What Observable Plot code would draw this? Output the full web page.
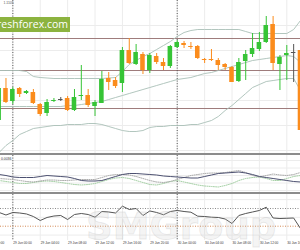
<!DOCTYPE html>
<html><head><meta charset="utf-8">
<script src="https://cdn.jsdelivr.net/npm/d3@7"></script>
<script src="https://cdn.jsdelivr.net/npm/@observablehq/plot@0.6"></script>
<style>
body{margin:0;background:#fff}
#chart{position:relative;width:300px;height:250px;overflow:hidden;background:#fff;font-family:"Liberation Sans",Arial,sans-serif}
#chart svg{position:absolute;left:0}
.sep{position:absolute;left:0;width:300px;background:#8c8c8c}
#banner{position:absolute;left:0;top:17px;width:70px;height:15px;background:#8cb33f;overflow:hidden}
#banner span{position:absolute;right:2px;top:0;line-height:15px;white-space:nowrap;color:#fff;font:10.5px "Open Sans",sans-serif}
#wm{position:absolute;left:86px;top:208px;font:bold 37px "DejaVu Sans",sans-serif;line-height:37px;color:rgba(200,200,200,0.2);-webkit-text-stroke:0.8px rgba(175,175,175,0.25);white-space:nowrap}
</style></head><body><div id="chart"></div><script>
// ---- data (hourly EUR/USD, first candle 28 Jun 22:00) ----
const startHour = "2016-06-28T22:00:00Z";
const opens = [
 1.1080,1.1112,1.1099,1.1112,1.1107, 1.1108,1.1096,1.1087,1.1099,1.1101,
 1.1102,1.1090,1.1104,1.1105,1.1094, 1.1097,1.1122,1.1120,1.1117,1.1150,
 1.1136,1.1146,1.1130,1.1144,1.1138, 1.1134,1.1153,1.1157,1.1154,1.1154,
 1.1141,1.1141,1.1140,1.1136,1.1133, 1.1119,1.1139,1.1146,1.1151,1.1158,
 1.1176,1.1136,1.1145,1.1148,1.1150];
const highs = [
 1.1114,1.1122,1.1113,1.1113,1.1110, 1.1111,1.1097,1.1101,1.1102,1.1103,
 1.1104,1.1111,1.1135,1.1111,1.1100, 1.1129,1.1128,1.1123,1.1153,1.1162,
 1.1156,1.1148,1.1147,1.1147,1.1142, 1.1155,1.1160,1.1159,1.1158,1.1155,
 1.1142,1.1151,1.1142,1.1137,1.1134, 1.1142,1.1150,1.1167,1.1168,1.1184,
 1.1184,1.1145,1.1155,1.1156,1.1153];
const lows = [
 1.1077,1.1097,1.1096,1.1103,1.1106, 1.1096,1.1084,1.1084,1.1098,1.1099,
 1.1089,1.1089,1.1100,1.1093,1.1084, 1.1097,1.1110,1.1112,1.1108,1.1136,
 1.1135,1.1126,1.1127,1.1136,1.1130, 1.1132,1.1152,1.1152,1.1151,1.1141,
 1.1137,1.1139,1.1130,1.1130,1.1118, 1.1118,1.1120,1.1143,1.1149,1.1157,
 1.1130,1.1110,1.1120,1.1118,1.1065];
const closes = [
 1.1112,1.1098,1.1111,1.1106,1.1109, 1.1097,1.1086,1.1098,1.1100,1.1101,
 1.1090,1.1103,1.1105,1.1095,1.1098, 1.1121,1.1118,1.1114,1.1150,1.1137,
 1.1148,1.1130,1.1145,1.1138,1.1134, 1.1154,1.1158,1.1155,1.1153,1.1142,
 1.1140,1.1140,1.1135,1.1133,1.1118, 1.1138,1.1146,1.1152,1.1158,1.1175,
 1.1137,1.1143,1.1147,1.1148,1.1070];
const upperBand = [
 1.1130,1.1130,1.1130,1.1130,1.1129, 1.1124,1.1123,1.11225,1.1122,1.1122,
 1.1122,1.1122,1.1122,1.1122,1.1122, 1.1122,1.11225,1.1123,1.1129,1.1136,
 1.1140,1.1144,1.1147,1.1151,1.1155, 1.1159,1.1164,1.1168,1.1170,1.1171,
 1.1171,1.1171,1.1171,1.1171,1.1171, 1.1171,1.1169,1.1167,1.1167,1.1167,
 1.1167,1.1167,1.1167,1.1171,1.1180];
const midBand = [
 1.1094,1.1094,1.1094,1.1094,1.1094, 1.1094,1.1094,1.1094,1.1094,1.1094,
 1.1095,1.1095,1.1096,1.1097,1.1098, 1.1099,1.1101,1.1103,1.1105,1.1107,
 1.1109,1.1111,1.1113,1.1115,1.1117, 1.1119,1.1121,1.1122,1.1123,1.1125,
 1.1127,1.1128,1.1130,1.1132,1.1134, 1.1136,1.1138,1.1140,1.1141,1.1142,
 1.1143,1.1144,1.1145,1.1144,1.1138];
const lowerBand = [
 1.1048,1.1055,1.1060,1.1066,1.1069, 1.1072,1.1073,1.1074,1.1075,1.1075,
 1.1076,1.1076,1.1076,1.1077,1.1077, 1.1076,1.1074,1.1072,1.1070,1.1069,
 1.1069,1.1070,1.1073,1.1074,1.1074, 1.1075,1.1075,1.1075,1.1076,1.1076,
 1.1078,1.1080,1.1084,1.1090,1.1095, 1.1101,1.1107,1.1113,1.1116,1.1119,
 1.1120,1.1121,1.1122,1.1122,1.1110];
const levels = [1.1162, 1.1130, 1.1092];
const osc = [
 0.0002,0.0000,-0.0003,-0.0004,-0.0004, -0.0004,-0.0002,0.0000,-0.0001,-0.0002,
 -0.0003,-0.0006,-0.0010,-0.0011,-0.0011, -0.0010,-0.0006,-0.0002,0.0002,0.0004,
 0.0004,0.0003,0.0002,0.0001,-0.0001, -0.0002,-0.0003,-0.0004,-0.0005,-0.0005,
 -0.0002,0.0001,0.0004,0.0005,0.0006, 0.0007,0.0005,0.0002,-0.0002,-0.0004,
 -0.0006,-0.0008,-0.0010,-0.0012,-0.0013];
const oscSignal = [
 -0.0006,-0.0007,-0.0008,-0.0010,-0.0012, -0.0013,-0.0011,-0.0009,-0.0009,-0.0010,
 -0.0010,-0.0009,-0.0008,-0.0008,-0.0008, -0.0004,0.0000,0.0002,0.0002,0.0001,
 -0.0002,-0.0006,-0.0010,-0.0013,-0.0014, -0.0012,-0.0008,-0.0004,0.0000,0.0002,
 0.0004,0.0005,0.0005,0.0006,0.0008, 0.0010,0.0006,0.0000,-0.0003,0.0000,
 0.0003,0.0001,0.0000,0.0002,0.0006];
const oscSlow = [
 -0.0010,-0.0012,-0.0014,-0.0016,-0.0016, -0.0014,-0.0012,-0.0011,-0.0012,-0.0014,
 -0.0016,-0.0018,-0.0019,-0.0018,-0.0016, -0.0012,-0.0008,-0.0005,-0.0004,-0.0006,
 -0.0010,-0.0014,-0.0018,-0.0019,-0.0016, -0.0012,-0.0010,-0.0013,-0.0016,-0.0019,
 -0.0021,-0.0022,-0.0023,-0.0020,-0.0016, -0.0010,-0.0006,-0.0004,-0.0003,-0.0006,
 -0.0010,-0.0010,-0.0006,-0.0002,0.0000];
const rsi = [
 61.0,55.3,61.0,59.8,57.6, 51.9,42.9,49.7,53.0,54.2,
 45.1,56.4,58.7,56.4,50.3, 63.2,62.1,59.8,75.2,67.7,
 70.0,54.2,64.4,61.0,55.8, 63.2,65.5,63.2,61.6,52.6,
 51.9,50.3,49.7,46.3,36.1, 54.2,58.7,62.1,65.5,72.9,
 48.5,47.4,47.9,48.5,24.8];
const tickTimes = ["2016-06-28T20:00Z","2016-06-29T00:00Z","2016-06-29T04:00Z","2016-06-29T08:00Z","2016-06-29T12:00Z","2016-06-29T16:00Z","2016-06-29T20:00Z","2016-06-30T00:00Z","2016-06-30T04:00Z","2016-06-30T08:00Z","2016-06-30T12:00Z","2016-06-30T16:00Z"];
const tickLabels = ["28 Jun 20:00","29 Jun 00:00","29 Jun 04:00","29 Jun 08:00","29 Jun 12:00","29 Jun 16:00","29 Jun 20:00","30 Jun 00:00","30 Jun 04:00","30 Jun 08:00","30 Jun 12:00","30 Jun 16:00"];
const daySeps = ["2016-06-29T00:00Z","2016-06-30T00:00Z"];
const priceGrid = [1.1050,1.1075,1.1100,1.1125,1.1150,1.1175];
const oscGrid = [0.0030,0.0015,0.0000,-0.0015,-0.0030];
const rsiLevels = [70, 30];

// ---- build ----
const t0 = new Date(startHour).getTime();
const times = opens.map((_, i) => new Date(t0 + i * 3600e3));
const candles = times.map((t, i) => ({t, open: opens[i], high: highs[i], low: lows[i], close: closes[i]}));
const rows = times.map((t, i) => ({t, upper: upperBand[i], mid: midBand[i], lower: lowerBand[i],
  osc: osc[i], sig: oscSignal[i], slow: oscSlow[i], rsi: rsi[i]}));
const ticks = tickTimes.map((s, i) => ({t: new Date(s), label: tickLabels[i]}));
const seps = daySeps.map(s => new Date(s));
const gridT = ticks.map(d => d.t);
const xDomain = [new Date("2016-06-28T22:12:00Z"), new Date("2016-06-30T18:00:00Z")];
const GREEN = "#36c436", ORANGE = "#fb8c1c", DOJI = "#555";
const col = d => d.close > d.open ? GREEN : d.close < d.open ? ORANGE : DOJI;
const half = 20 * 60e3;
const base = {width: 300, marginTop: 0, marginRight: 0, marginBottom: 0, marginLeft: 0,
  style: {background: "#fff", fontFamily: "Liberation Sans, Arial, sans-serif"},
  x: {type: "utc", domain: xDomain, range: [0, 300], axis: null}, color: {type: "identity"}};
const GRID = "#ececec", BAND = "#a9bfb7", LEVEL = "#9f7c7c";

const main = Plot.plot({...base, height: 153,
  y: {domain: [1.1047, 1.1200], range: [153, 0], axis: null},
  marks: [
    Plot.ruleX(gridT, {stroke: GRID}),
    Plot.ruleY(priceGrid, {stroke: GRID}),
    Plot.ruleY(levels, {stroke: LEVEL, strokeWidth: 1}),
    Plot.ruleX(seps, {stroke: "#555", strokeDasharray: "1,1.6"}),
    Plot.line(rows, {x: "t", y: "upper", stroke: BAND, strokeWidth: 0.9}),
    Plot.line(rows, {x: "t", y: "mid", stroke: BAND, strokeWidth: 0.9}),
    Plot.line(rows, {x: "t", y: "lower", stroke: BAND, strokeWidth: 0.9}),
    Plot.ruleX(candles, {x: "t", y1: "low", y2: "high", stroke: col, strokeWidth: 1}),
    Plot.rect(candles.filter(d => d.open !== d.close), {x1: d => new Date(+d.t - half), x2: d => new Date(+d.t + half), y1: "open", y2: "close", fill: col}),
    Plot.ruleY(candles.filter(d => d.open === d.close), {y: "open", x1: d => new Date(+d.t - half), x2: d => new Date(+d.t + half), stroke: DOJI}),
    Plot.text(["1.1105"], {frameAnchor: "top-left", dx: 3, dy: 1.5, lineAnchor: "top", fontSize: 3.4, fill: "#555"})
  ]});

const p2 = Plot.plot({...base, height: 37,
  y: {domain: [-0.0034, 0.0040], range: [37, 0], axis: null},
  marks: [
    Plot.ruleX(gridT, {stroke: GRID}),
    Plot.ruleY(oscGrid, {stroke: GRID}),
    Plot.ruleX(seps, {stroke: "#555", strokeDasharray: "1,1.6"}),
    Plot.line(rows, {x: "t", y: "slow", stroke: "#9ccb9c", strokeWidth: 0.9, strokeDasharray: "1,1.2"}),
    Plot.line(rows, {x: "t", y: "sig", stroke: "#a4a4a4", strokeWidth: 0.9, strokeDasharray: "1,1.2"}),
    Plot.line(rows, {x: "t", y: "osc", stroke: "#4c5070", strokeWidth: 1}),
    Plot.text(["0.0036"], {frameAnchor: "top-left", dx: 0.5, dy: 2.5, lineAnchor: "top", fontSize: 3.4, fill: "#333"})
  ]});

const p3 = Plot.plot({...base, height: 56, marginBottom: 10,
  y: {domain: [0, 100], range: [45, 0.7], axis: null},
  marks: [
    Plot.ruleX(gridT, {stroke: GRID}),
    Plot.ruleY([90, 50, 10], {stroke: GRID}),
    Plot.ruleX(seps, {stroke: "#555", strokeDasharray: "1,1.6"}),
    Plot.ruleY([rsiLevels[0]], {stroke: "#8a8a8a", strokeDasharray: "1,1.5"}),
    Plot.ruleY([rsiLevels[1]], {stroke: "#d48a55", strokeDasharray: "1,1.5"}),
    Plot.line(rows, {x: "t", y: "rsi", stroke: "#555", strokeWidth: 1}),
    Plot.text(ticks, {x: "t", text: "label", frameAnchor: "bottom", textAnchor: "start", lineAnchor: "top", dx: 0.5, dy: 1, fontSize: 3.2, fill: "#333"})
  ]});

const chart = document.getElementById("chart");
function place(el, top){ el.style.top = top + "px"; chart.appendChild(el); }
place(main, 0);
const s1 = document.createElement("div"); s1.className = "sep"; s1.style.top = "153px"; s1.style.height = "2px"; chart.appendChild(s1);
place(p2, 155);
const s2 = document.createElement("div"); s2.className = "sep"; s2.style.top = "192px"; s2.style.height = "2px"; chart.appendChild(s2);
place(p3, 194);
const banner = document.createElement("div"); banner.id = "banner";
banner.innerHTML = "<span>freshforex.com</span>"; chart.appendChild(banner);
const wm = document.createElement("div"); wm.id = "wm"; wm.textContent = "SMGroup"; chart.appendChild(wm);
</script></body></html>
